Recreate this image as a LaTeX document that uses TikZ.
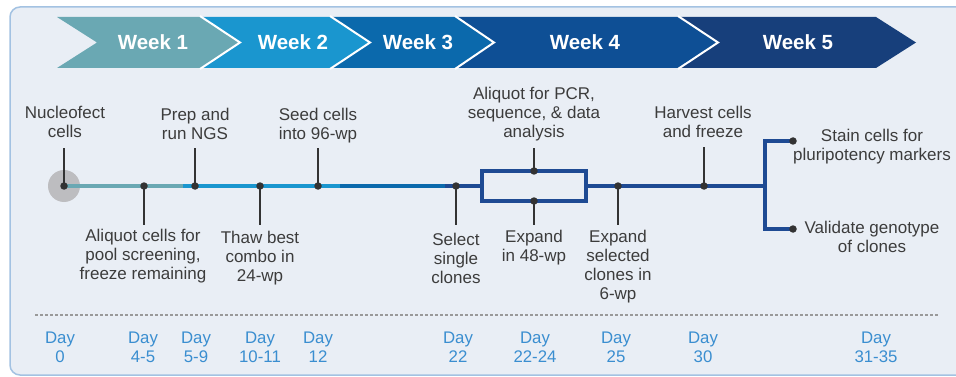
\documentclass[tikz,border=0pt]{standalone}
\usepackage{fontspec}
\setmainfont{Liberation Sans}
\usetikzlibrary{calc}
\definecolor{framefill}{HTML}{E9EEF5}
\definecolor{framedraw}{HTML}{A3C2E2}
\definecolor{wkA}{HTML}{6AA8B3}
\definecolor{wkB}{HTML}{1A96CF}
\definecolor{wkC}{HTML}{0B69AC}
\definecolor{wkD}{HTML}{0E4F95}
\definecolor{wkE}{HTML}{173F7B}
\definecolor{navy}{HTML}{1E4A93}
\definecolor{labelgray}{HTML}{3C3C3C}
\definecolor{tickgray}{HTML}{333333}
\definecolor{dayblue}{HTML}{3A8ED0}
\definecolor{bigdot}{HTML}{BDBDC0}
\tikzset{
  lbl/.style={font=\fontsize{17}{19}\selectfont, text=labelgray, align=center, inner sep=0pt},
  dayl/.style={font=\fontsize{16.8}{19}\selectfont, text=dayblue, align=center, inner sep=0pt},
  wk/.style={font=\bfseries\fontsize{20.5}{24}\selectfont, text=white, inner sep=0pt},
  dot/.style={circle, fill=tickgray, inner sep=0pt, minimum size=7.5pt},
  tick/.style={draw=tickgray, line width=1.8pt},
  tl/.style={line width=4.5pt},
  chev/.style={draw=white, line width=2pt, line join=miter},
}
\begin{document}
\begin{tikzpicture}[x=1pt, y=-1pt]
\useasboundingbox (0,0) rectangle (956,377);
% frame
\begin{scope}
\clip (0,0) rectangle (956,377);
\draw[fill=framefill, draw=framedraw, line width=1.5pt, rounded corners=10pt] (10,7) rectangle (990,375);
\end{scope}
% week chevrons
\fill[wkA] (57,17) -- (200,17) -- (240,42.5) -- (200,68) -- (57,68) -- (97,42.5) -- cycle;
\fill[wkB] (200,17) -- (330,17) -- (370,42.5) -- (330,68) -- (200,68) -- (240,42.5) -- cycle;
\fill[wkC] (330,17) -- (455,17) -- (494,42.5) -- (455,68) -- (330,68) -- (370,42.5) -- cycle;
\fill[wkD] (455,17) -- (678,17) -- (718,42.5) -- (678,68) -- (455,68) -- (494,42.5) -- cycle;
\fill[wkE] (678,17) -- (876,17) -- (916,42.5) -- (876,68) -- (678,68) -- (718,42.5) -- cycle;
\draw[chev] (200,16) -- (240,42.5) -- (200,69);
\draw[chev] (330,16) -- (370,42.5) -- (330,69);
\draw[chev] (455,16) -- (494,42.5) -- (455,69);
\draw[chev] (678,16) -- (718,42.5) -- (678,69);
\node[wk] (w1) at (153,42.5) {Week 1};
\node[wk] (w2) at (293,42.5) {Week 2};
\node[wk] (w3) at (418,42.5) {Week 3};
\node[wk] (w4) at (585,42.5) {Week 4};
\node[wk] (w5) at (798,42.5) {Week 5};
% timeline
\fill[bigdot] (64,186) circle (16);
\coordinate (t0) at (64,186);
\coordinate (ta) at (183,186);
\coordinate (tb) at (340,186);
\coordinate (tc) at (445,186);
\coordinate (bxl) at (482,186);
\coordinate (bxr) at (586,186);
\coordinate (br) at (765,186);
\draw[tl, wkA] (t0) -- (ta);
\draw[tl, wkB] (ta) -- (tb);
\draw[tl, wkC] (tb) -- (tc);
\draw[tl, navy] (tc) -- (bxl);
\draw[tl, navy] (482,171) rectangle (586,201);
\draw[tl, navy] (bxr) -- (br);
\draw[tl, navy, line join=miter] (793,141) -- (765,141) -- (765,229) -- (793,229);
% dots
\node[dot] (d0) at (64,186) {};
\node[dot] (d1) at (144,186) {};
\node[dot] (d2) at (195,186) {};
\node[dot] (d3) at (260,186) {};
\node[dot] (d4) at (318,186) {};
\node[dot] (d5) at (456,186) {};
\node[dot] (d6t) at (534,171) {};
\node[dot] (d6b) at (534,201) {};
\node[dot] (d7) at (618,186) {};
\node[dot] (d8) at (704,186) {};
\node[dot] (e1) at (793,141) {};
\node[dot] (e2) at (793,229) {};
% tick ends
\coordinate (k0) at (64,148);
\coordinate (k1) at (144,225);
\coordinate (k2) at (195,148);
\coordinate (k3) at (260,225);
\coordinate (k4) at (318,148);
\coordinate (k5) at (456,225);
\coordinate (k6t) at (534,148);
\coordinate (k6b) at (534,225);
\coordinate (k7) at (618,225);
\coordinate (k8) at (704,147);
\draw[tick] (d0.center) -- (k0);
\draw[tick] (d1.center) -- (k1);
\draw[tick] (d2.center) -- (k2);
\draw[tick] (d3.center) -- (k3);
\draw[tick] (d4.center) -- (k4);
\draw[tick] (d5.center) -- (k5);
\draw[tick] (d6t.center) -- (k6t);
\draw[tick] (d6b.center) -- (k6b);
\draw[tick] (d7.center) -- (k7);
\draw[tick] (d8.center) -- (k8);
% labels above
\node[lbl] (l0) at (65,122) {Nucleofect\\cells};
\node[lbl] (l2) at (195,124) {Prep and\\run NGS};
\node[lbl] (l4) at (318,126) {Seed cells\\into 96-wp};
\node[lbl] (l6) at (534,114) {Aliquot for PCR,\\sequence, \& data\\analysis};
\node[lbl] (l8) at (703,122) {Harvest cells\\and freeze};
% labels below
\node[lbl] (l1) at (143,256) {Aliquot cells for\\pool screening,\\freeze remaining};
\node[lbl] (l3) at (260,258) {Thaw best\\combo in\\24-wp};
\node[lbl] (l5) at (456,258) {Select\\single\\clones};
\node[lbl] (l6b) at (534,248) {Expand\\in 48-wp};
\node[lbl] (l7) at (618,267) {Expand\\selected\\clones in\\6-wp};
% right labels
\node[lbl] (r1) at (872,147) {Stain cells for\\pluripotency markers};
\node[lbl] (r2) at (872,237) {Validate genotype\\of clones};
% dotted separator
\coordinate (s0) at (35,315);
\coordinate (s1) at (938,315);
\draw[draw=gray!80, line width=1.5pt, dash pattern=on 3pt off 2pt] (s0) -- (s1);
% day labels
\node[dayl] (y0) at (60,347) {Day\\0};
\node[dayl] (y1) at (143,347) {Day\\4-5};
\node[dayl] (y2) at (196,347) {Day\\5-9};
\node[dayl] (y3) at (260,347) {Day\\10-11};
\node[dayl] (y4) at (318,347) {Day\\12};
\node[dayl] (y5) at (458,347) {Day\\22};
\node[dayl] (y6) at (535,347) {Day\\22-24};
\node[dayl] (y7) at (616,347) {Day\\25};
\node[dayl] (y8) at (703,347) {Day\\30};
\node[dayl] (y9) at (876,347) {Day\\31-35};
\end{tikzpicture}
\end{document}
